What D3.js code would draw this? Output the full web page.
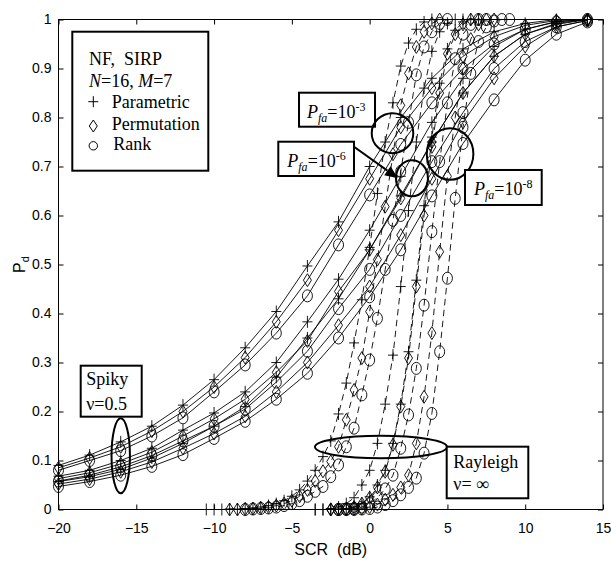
<!DOCTYPE html>
<html>
<head>
<meta charset="utf-8">
<script src="https://cdn.jsdelivr.net/npm/d3@7"></script>
<style>
  html, body { margin: 0; padding: 0; background: #fff; }
  svg { display: block; }
  .serif { font-family: "Liberation Serif", "Times New Roman", serif; }
  .sans { font-family: "Liberation Sans", Arial, sans-serif; }
</style>
</head>
<body>
<svg id="chart" width="611" height="561"></svg>
<script>
// ---- Spiky clutter (nu = 0.5), solid lines, SCR grid in dB ----
const spikyX = [-20, -18, -16, -14, -12, -10, -8, -6, -4, -2, 0, 2, 4, 6, 8, 10, 12, 14];
// Pfa = 1e-3
const spiky3Param = [0.090, 0.111, 0.138, 0.170, 0.213, 0.265, 0.330, 0.404, 0.497, 0.587, 0.700, 0.800, 0.880, 0.940, 0.975, 0.992, 1.000, 1.000];
const spiky3Perm  = [0.085, 0.105, 0.128, 0.160, 0.200, 0.250, 0.310, 0.383, 0.468, 0.570, 0.675, 0.780, 0.860, 0.925, 0.965, 0.988, 0.998, 1.000];
const spiky3Rank  = [0.080, 0.100, 0.120, 0.150, 0.187, 0.240, 0.295, 0.360, 0.436, 0.540, 0.642, 0.745, 0.830, 0.900, 0.950, 0.980, 0.995, 1.000];
// Pfa = 1e-6
const spiky6Param = [0.068, 0.080, 0.100, 0.125, 0.162, 0.197, 0.240, 0.300, 0.383, 0.470, 0.570, 0.680, 0.790, 0.880, 0.945, 0.980, 0.996, 1.000];
const spiky6Perm  = [0.063, 0.075, 0.093, 0.117, 0.150, 0.185, 0.225, 0.280, 0.344, 0.445, 0.530, 0.635, 0.750, 0.850, 0.925, 0.970, 0.990, 1.000];
const spiky6Rank  = [0.058, 0.070, 0.087, 0.110, 0.140, 0.170, 0.205, 0.260, 0.323, 0.410, 0.490, 0.600, 0.710, 0.810, 0.900, 0.955, 0.985, 0.998];
// Pfa = 1e-8
const spiky8Param = [0.057, 0.067, 0.082, 0.105, 0.135, 0.170, 0.210, 0.270, 0.350, 0.430, 0.530, 0.640, 0.750, 0.850, 0.925, 0.970, 0.992, 1.000];
const spiky8Perm  = [0.052, 0.062, 0.077, 0.097, 0.125, 0.155, 0.190, 0.240, 0.300, 0.376, 0.455, 0.560, 0.675, 0.790, 0.880, 0.945, 0.985, 0.998];
const spiky8Rank  = [0.047, 0.057, 0.070, 0.088, 0.112, 0.145, 0.180, 0.225, 0.278, 0.350, 0.434, 0.530, 0.640, 0.747, 0.836, 0.917, 0.970, 0.995];

// ---- Rayleigh clutter (nu = inf), dashed lines, [SCR dB, Pd] ----
const ray3Param = [[-10.5,0],[-10,0],[-9.5,0],[-9,0.001],[-8.5,0.001],[-8,0.002],[-7.5,0.003],[-7,0.005],[-6.5,0.008],[-6,0.012],[-5.5,0.018],[-5,0.027],[-4.5,0.040],[-4,0.058],[-3.5,0.080],[-3,0.108],[-2.5,0.140],[-2,0.195],[-1.5,0.258],[-1,0.340],[-0.5,0.428],[0,0.535],[0.5,0.645],[1,0.750],[1.5,0.830],[2,0.905],[2.5,0.952],[3,0.980],[3.5,0.995],[4,1.000]];
const ray3Perm  = [[-9,0],[-8.5,0],[-8,0.001],[-7.5,0.002],[-7,0.003],[-6.5,0.005],[-6,0.008],[-5.5,0.012],[-5,0.018],[-4.5,0.027],[-4,0.040],[-3.5,0.058],[-3,0.078],[-2.5,0.098],[-2,0.128],[-1.5,0.183],[-1,0.244],[-0.5,0.309],[0,0.404],[0.5,0.510],[1,0.618],[1.5,0.725],[2,0.825],[2.5,0.890],[3,0.944],[3.5,0.975],[4,0.992],[4.5,1.000]];
const ray3Rank  = [[-8,0],[-7.5,0.001],[-7,0.002],[-6.5,0.003],[-6,0.005],[-5.5,0.008],[-5,0.012],[-4.5,0.018],[-4,0.027],[-3.5,0.037],[-3,0.047],[-2.5,0.067],[-2,0.091],[-1.5,0.128],[-1,0.166],[-0.5,0.234],[0,0.305],[0.5,0.390],[1,0.490],[1.5,0.590],[2,0.690],[2.5,0.790],[3,0.887],[3.5,0.944],[4,0.975],[4.5,0.992],[5,1.000]];
const ray6Param = [[-3.5,0],[-3,0],[-2.5,0.002],[-2,0.005],[-1.5,0.012],[-1,0.024],[-0.5,0.050],[0,0.080],[0.5,0.135],[1,0.215],[1.5,0.315],[2,0.455],[2.5,0.610],[3,0.750],[3.5,0.860],[4,0.935],[4.5,0.975],[5,0.992],[5.5,1.000],[6,1.000]];
const ray6Perm  = [[-2.5,0],[-2,0.001],[-1.5,0.002],[-1,0.005],[-0.5,0.012],[0,0.024],[0.5,0.045],[1,0.077],[1.5,0.132],[2,0.210],[2.5,0.309],[3,0.455],[3.5,0.600],[4,0.740],[4.5,0.850],[5,0.930],[5.5,0.970],[6,0.990],[6.5,1.000],[7,1.000]];
const ray6Rank  = [[-2,0],[-1.5,0.001],[-1,0.002],[-0.5,0.005],[0,0.012],[0.5,0.024],[1,0.042],[1.5,0.070],[2,0.125],[2.5,0.193],[3,0.288],[3.5,0.417],[4,0.567],[4.5,0.710],[5,0.830],[5.5,0.920],[6,0.970],[6.5,0.990],[7,1.000],[7.5,1.000]];
const ray8Param = [[-3.5,0],[-3,0],[-2.5,0],[-2,0.001],[-1.5,0.002],[-1,0.005],[-0.5,0.012],[0,0.026],[0.5,0.050],[1,0.080],[1.5,0.135],[2,0.215],[2.5,0.322],[3,0.468],[3.5,0.620],[4,0.760],[4.5,0.870],[5,0.940],[5.5,0.978],[6,0.995],[6.5,1.000],[7,1.000]];
const ray8Perm  = [[-2.5,0],[-2,0],[-1.5,0],[-1,0.001],[-0.5,0.002],[0,0.005],[0.5,0.010],[1,0.020],[1.5,0.030],[2,0.045],[2.5,0.070],[3,0.135],[3.5,0.230],[4,0.360],[4.5,0.526],[5,0.680],[5.5,0.800],[6,0.900],[6.5,0.960],[7,0.990],[7.5,1.000],[8,1.000]];
const ray8Rank  = [[-2,0],[-1.5,0],[-1,0],[-0.5,0.001],[0,0.002],[0.5,0.005],[1,0.010],[1.5,0.018],[2,0.030],[2.5,0.045],[3,0.064],[3.5,0.115],[4,0.196],[4.5,0.322],[5,0.472],[5.5,0.635],[6,0.780],[6.5,0.890],[7,0.955],[7.5,0.985],[8,0.997],[8.5,1.000],[9,1.000]];

// ---- Axes ----
const xTicks = [-20, -15, -10, -5, 0, 5, 10, 15];
const yTicks = [0, 0.1, 0.2, 0.3, 0.4, 0.5, 0.6, 0.7, 0.8, 0.9, 1];
const yTickLabels = ["0", "0.1", "0.2", "0.3", "0.4", "0.5", "0.6", "0.7", "0.8", "0.9", "1"];
const legendLabels = ["Parametric", "Permutation", "Rank"];

const svg = d3.select("#chart");
const W = 611, H = 561;
const plot = { left: 58.5, right: 603, top: 19.5, bottom: 509.5 };

const x = d3.scaleLinear().domain([-20, 15]).range([plot.left, plot.right]);
const y = d3.scaleLinear().domain([0, 1]).range([plot.bottom, plot.top]);

svg.append("rect").attr("width", W).attr("height", H).attr("fill", "#fff");

// Curves table
const spiky = (vals, marker) => ({ pts: spikyX.map((v, i) => [v, vals[i]]), marker, dashed: false });
const ray = (pairs, marker) => ({ pts: pairs, marker, dashed: true });
const curves = [
  spiky(spiky3Param, "plus"), spiky(spiky3Perm, "diamond"), spiky(spiky3Rank, "circle"),
  spiky(spiky6Param, "plus"), spiky(spiky6Perm, "diamond"), spiky(spiky6Rank, "circle"),
  spiky(spiky8Param, "plus"), spiky(spiky8Perm, "diamond"), spiky(spiky8Rank, "circle"),
  ray(ray3Param, "plus"), ray(ray3Perm, "diamond"), ray(ray3Rank, "circle"),
  ray(ray6Param, "plus"), ray(ray6Perm, "diamond"), ray(ray6Rank, "circle"),
  ray(ray8Param, "plus"), ray(ray8Perm, "diamond"), ray(ray8Rank, "circle")
];

const markerPath = {
  plus: "M-5,0H5M0,-6V6",
  diamond: "M0,-6.5L4,0L0,6.5L-4,0Z",
  circle: "M-5,0A5,6 0 1,0 5,0A5,6 0 1,0 -5,0Z"
};

const line = d3.line().x(d => x(d[0])).y(d => y(d[1]));

const gData = svg.append("g");
curves.forEach(c => {
  gData.append("path")
    .attr("d", line(c.pts))
    .attr("fill", "none")
    .attr("stroke", "#000")
    .attr("stroke-width", 0.9)
    .attr("stroke-dasharray", c.dashed ? "6.5,4.5" : null);
  gData.selectAll(null).data(c.pts).enter().append("path")
    .attr("transform", d => `translate(${x(d[0])},${y(d[1])})`)
    .attr("d", markerPath[c.marker])
    .attr("fill", "none")
    .attr("stroke", "#000")
    .attr("stroke-width", 0.9);
});

// Frame and ticks (inward on all four sides)
svg.append("rect")
  .attr("x", plot.left).attr("y", plot.top)
  .attr("width", plot.right - plot.left).attr("height", plot.bottom - plot.top)
  .attr("fill", "none").attr("stroke", "#000").attr("stroke-width", 1);

const axisFont = g => g.attr("font-family", "Liberation Sans, Arial, sans-serif").attr("font-size", 14);

svg.append("g").attr("transform", `translate(0,${plot.bottom})`)
  .call(d3.axisBottom(x).tickValues(xTicks).tickSize(-5).tickPadding(13.5).tickFormat(d3.format("d")))
  .call(axisFont)
  .call(g => g.select(".domain").remove())
  .call(g => g.selectAll("text").attr("fill", "#000"));
svg.append("g").attr("transform", `translate(0,${plot.top})`)
  .call(d3.axisTop(x).tickValues(xTicks).tickSize(-5).tickFormat(""))
  .call(g => g.select(".domain").remove());
svg.append("g").attr("transform", `translate(${plot.left},0)`)
  .call(d3.axisLeft(y).tickValues(yTicks).tickSize(-5).tickPadding(7).tickFormat((d, i) => yTickLabels[i]))
  .call(axisFont)
  .call(g => g.select(".domain").remove())
  .call(g => g.selectAll("text").attr("fill", "#000"));
svg.append("g").attr("transform", `translate(${plot.right},0)`)
  .call(d3.axisRight(y).tickValues(yTicks).tickSize(-5).tickFormat(""))
  .call(g => g.select(".domain").remove());

// Axis titles
svg.append("text").attr("class", "sans")
  .attr("x", (plot.left + plot.right) / 2).attr("y", 555)
  .attr("text-anchor", "middle").attr("font-size", 16)
  .style("white-space", "pre")
  .text("SCR  (dB)");
const yl = svg.append("text").attr("class", "sans")
  .attr("transform", `translate(25,${(plot.top + plot.bottom) / 2}) rotate(-90)`)
  .attr("text-anchor", "middle").attr("font-size", 16);
yl.append("tspan").text("P");
yl.append("tspan").attr("font-size", 11).attr("dy", 4).text("d");

// ---- Annotations ----
const ann = svg.append("g").attr("class", "serif").attr("fill", "#000");
const box = (x0, y0, w, h) => ann.append("rect")
  .attr("x", x0).attr("y", y0).attr("width", w).attr("height", h)
  .attr("fill", "#fff").attr("stroke", "#000").attr("stroke-width", 2);
const ring = (cx, cy, rx, ry) => ann.append("ellipse")
  .attr("cx", cx).attr("cy", cy).attr("rx", rx).attr("ry", ry)
  .attr("fill", "none").attr("stroke", "#000").attr("stroke-width", 2);
const pfaLabel = (x0, y0, exp) => {
  const t = ann.append("text").attr("x", x0).attr("y", y0).attr("font-size", 18);
  t.append("tspan").attr("font-style", "italic").text("P");
  t.append("tspan").attr("font-style", "italic").attr("font-size", 12).attr("dy", 4).text("fa");
  t.append("tspan").attr("dy", -4).text("=10");
  t.append("tspan").attr("font-size", 12).attr("dy", -7).text(exp);
};

// Legend
{
  const lx = x(-19.113), ly = y(0.9751);
  box(lx, ly, 136, 139);
  ann.append("text").attr("x", lx + 16.7).attr("y", ly + 33.3).attr("font-size", 18)
    .style("white-space", "pre").text("NF,  SIRP");
  const t = ann.append("text").attr("x", lx + 16.7).attr("y", ly + 55.3).attr("font-size", 18);
  t.append("tspan").attr("font-style", "italic").text("N");
  t.append("tspan").text("=16, ");
  t.append("tspan").attr("font-style", "italic").text("M");
  t.append("tspan").text("=7");
  const rows = [
    { m: "M-5,0H5M0,-5.5V5.5", cy: 70, ty: 76.6 },
    { m: "M0,-6L4,0L0,6L-4,0Z", cy: 94.3, ty: 98.3 },
    { m: "M-4.2,0A4.2,4.2 0 1,0 4.2,0A4.2,4.2 0 1,0 -4.2,0Z", cy: 114.1, ty: 118.3 }
  ];
  rows.forEach((r, i) => {
    ann.append("path").attr("transform", `translate(${lx + 21},${ly + r.cy})`)
      .attr("d", r.m).attr("fill", "none").attr("stroke", "#000").attr("stroke-width", 1);
    ann.append("text").attr("x", lx + 39.5 + (i === 2 ? 1.5 : 0)).attr("y", ly + r.ty)
      .attr("font-size", 18).text(legendLabels[i]);
  });
}

// Pfa = 1e-3
{
  const bx = x(-4.54), by = y(0.8506);
  box(bx, by, 76, 34);
  pfaLabel(bx + 8, by + 25, "-3");
  ring(x(1.47), y(0.768), 20.8, 20);
}
// Pfa = 1e-6 with arrow
{
  const bx = x(-5.872), by = y(0.7506);
  box(bx, by, 75.7, 34.3);
  pfaLabel(bx + 9, by + 25, "-6");
  const cx = x(2.72), cy = y(0.676);
  ring(cx, cy, 16, 18);
  const sx = bx + 75.7, sy = by + 5, tx = cx - 14, ty = cy;
  const ang = Math.atan2(ty - sy, tx - sx);
  const L = 13, Wd = 5.5;
  const bxp = tx - L * Math.cos(ang), byp = ty - L * Math.sin(ang);
  ann.append("line").attr("x1", sx).attr("y1", sy).attr("x2", bxp).attr("y2", byp)
    .attr("stroke", "#000").attr("stroke-width", 2);
  ann.append("path")
    .attr("d", `M${tx},${ty}L${bxp - Wd * Math.sin(ang)},${byp + Wd * Math.cos(ang)}L${bxp + Wd * Math.sin(ang)},${byp - Wd * Math.cos(ang)}Z`)
    .attr("fill", "#000");
}
// Pfa = 1e-8
{
  ring(x(5.17), y(0.7255), 23.3, 25.8);
  const bx = x(6.13), by = y(0.6929);
  box(bx, by, 76.7, 35);
  pfaLabel(bx + 9, by + 25.5, "-8");
}
// Spiky clutter tag
{
  ring(x(-16.0), y(0.1096), 9.2, 37.5);
  const bx = x(-18.573), by = y(0.2935);
  box(bx, by, 61, 51);
  ann.append("text").attr("x", bx + 5.5).attr("y", by + 19).attr("font-size", 18).text("Spiky");
  ann.append("text").attr("x", bx + 5.5).attr("y", by + 44).attr("font-size", 18).text("ν=0.5");
}
// Rayleigh clutter tag
{
  ring(x(0.73), y(0.1276), 66, 11.2);
  const bx = x(4.953), by = y(0.1282);
  box(bx, by, 81.6, 51.6);
  ann.append("text").attr("x", bx + 6.6).attr("y", by + 21.6).attr("font-size", 18).text("Rayleigh");
  ann.append("text").attr("x", bx + 6.6).attr("y", by + 43.3).attr("font-size", 18)
    .style("white-space", "pre").text("ν= ∞");
}
</script>
</body>
</html>
